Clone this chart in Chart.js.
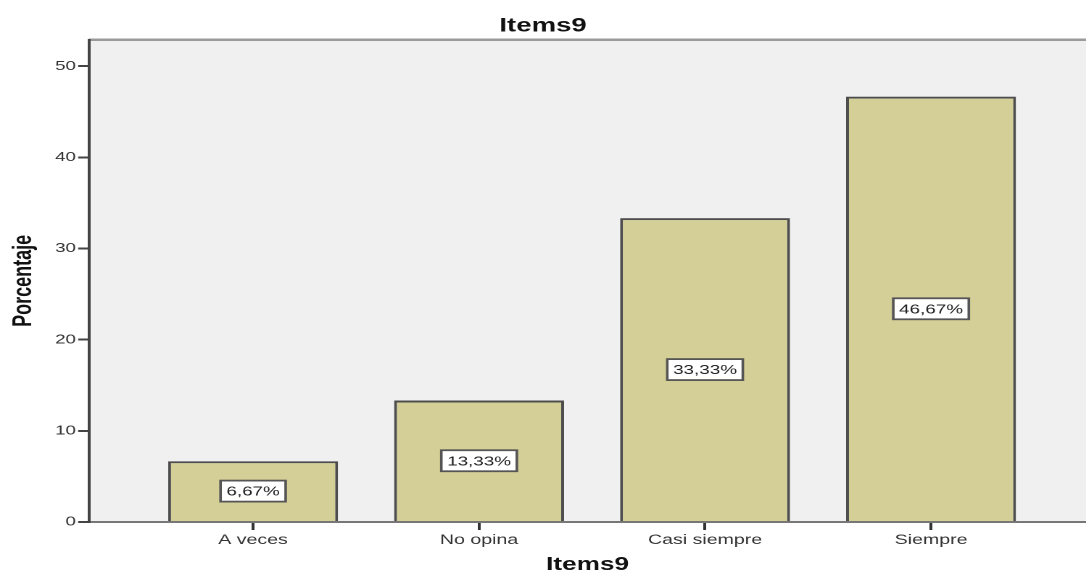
<!DOCTYPE html>
<html>
<head>
<meta charset="utf-8">
<script src="https://cdn.jsdelivr.net/npm/chart.js@4"></script>
<style>
  html, body { margin: 0; padding: 0; background: #fff; overflow: hidden; }
  /* the reference is a horizontally stretched export, so draw narrow and stretch */
  #wrap { width: 749px; height: 576px; transform: scaleX(1.45); transform-origin: 0 0; }
</style>
</head>
<body>
<div id="wrap"><canvas id="c" width="749" height="576"></canvas></div>
<script>
// data
const categories = ['A veces', 'No opina', 'Casi siempre', 'Siempre'];
const percentages = [6.67, 13.33, 33.33, 46.67];
const valueLabels = ['6,67%', '13,33%', '33,33%', '46,67%'];
const yTicks = [0, 10, 20, 30, 40, 50];

const chartTitle = 'Items9';
const xTitle = 'Items9';
const yTitle = 'Porcentaje';

const barFill = '#d3cf97';
const barLine = '#4d4d4d';
const plotBg = '#f0f0f0';
const fontFam = '"Liberation Sans", Arial, sans-serif';

// plot background + top frame line
const plotFrame = {
  id: 'plotFrame',
  beforeDraw(chart) {
    const { ctx, chartArea: a } = chart;
    ctx.save();
    ctx.fillStyle = plotBg;
    ctx.fillRect(a.left, a.top, a.right - a.left, a.bottom - a.top);
    ctx.strokeStyle = '#9a9a9a';
    ctx.lineWidth = 2.5;
    ctx.beginPath();
    ctx.moveTo(a.left, a.top);
    ctx.lineTo(a.right, a.top);
    ctx.stroke();
    ctx.restore();
  }
};

// white boxed value labels in the middle of each bar
const boxLabels = {
  id: 'boxLabels',
  afterDatasetsDraw(chart) {
    const { ctx } = chart;
    const meta = chart.getDatasetMeta(0);
    ctx.save();
    ctx.font = '13px ' + fontFam;
    ctx.textAlign = 'center';
    ctx.textBaseline = 'middle';
    meta.data.forEach((bar, i) => {
      const txt = valueLabels[i];
      const cx = bar.x;
      const cy = (bar.y + bar.base) / 2;
      const w = ctx.measureText(txt).width + 8;
      const h = 21;
      ctx.fillStyle = '#ffffff';
      ctx.fillRect(cx - w / 2, cy - h / 2, w, h);
      ctx.strokeStyle = '#555555';
      ctx.lineWidth = 1.8;
      ctx.strokeRect(cx - w / 2, cy - h / 2, w, h);
      ctx.fillStyle = '#222222';
      ctx.fillText(txt, cx, cy + 1);
    });
    ctx.restore();
  }
};

const tickFont = { family: fontFam, size: 13 };

new Chart(document.getElementById('c'), {
  type: 'bar',
  data: {
    datasets: [{
      data: percentages.map((v, i) => ({ x: i, y: v })),
      backgroundColor: barFill,
      borderColor: barLine,
      borderWidth: 2,
      barPercentage: 0.752,
      categoryPercentage: 1,
    }],
  },
  options: {
    responsive: false,
    animation: false,
    devicePixelRatio: 2,
    layout: { padding: 0 },
    plugins: {
      legend: { display: false },
      tooltip: { enabled: false },
      title: {
        display: true,
        text: chartTitle,
        color: '#111',
        font: { family: fontFam, size: 19, weight: 'bold' },
        padding: { top: 15, bottom: 2 },
      },
    },
    scales: {
      x: {
        type: 'linear',
        offset: false,
        min: -0.726,
        max: 3.686,
        afterBuildTicks: s => { s.ticks = categories.map((c, i) => ({ value: i })); },
        afterFit: s => { s.height = 54; },
        ticks: {
          callback: v => categories[v],
          color: '#333',
          font: { family: fontFam, size: 13.5 },
          padding: 2,
          maxRotation: 0,
        },
        grid: {
          offset: false,
          drawOnChartArea: false,
          drawTicks: true,
          tickLength: 8,
          color: '#333',
          lineWidth: 2,
        },
        border: { display: true, color: '#777', width: 2 },
        title: {
          display: true,
          text: xTitle,
          color: '#111',
          font: { family: fontFam, size: 18, weight: 'bold' },
          padding: { top: 0, bottom: 0 },
        },
      },
      y: {
        min: 0,
        max: 52.9,
        afterBuildTicks: s => { s.ticks = yTicks.map(v => ({ value: v })); },
        afterFit: s => { s.width = 61.4; },
        ticks: {
          color: '#333',
          font: tickFont,
          padding: 1.5,
        },
        grid: {
          drawOnChartArea: false,
          drawTicks: true,
          tickLength: 7.5,
          color: '#444',
          lineWidth: 2,
        },
        border: { display: true, color: '#444', width: 2 },
        title: {
          display: true,
          text: yTitle,
          color: '#111',
          font: { family: fontFam, size: 18, weight: 'bold' },
          padding: { top: 5.5, bottom: 2 },
        },
      },
    },
  },
  plugins: [plotFrame, boxLabels],
});
</script>
</body>
</html>
